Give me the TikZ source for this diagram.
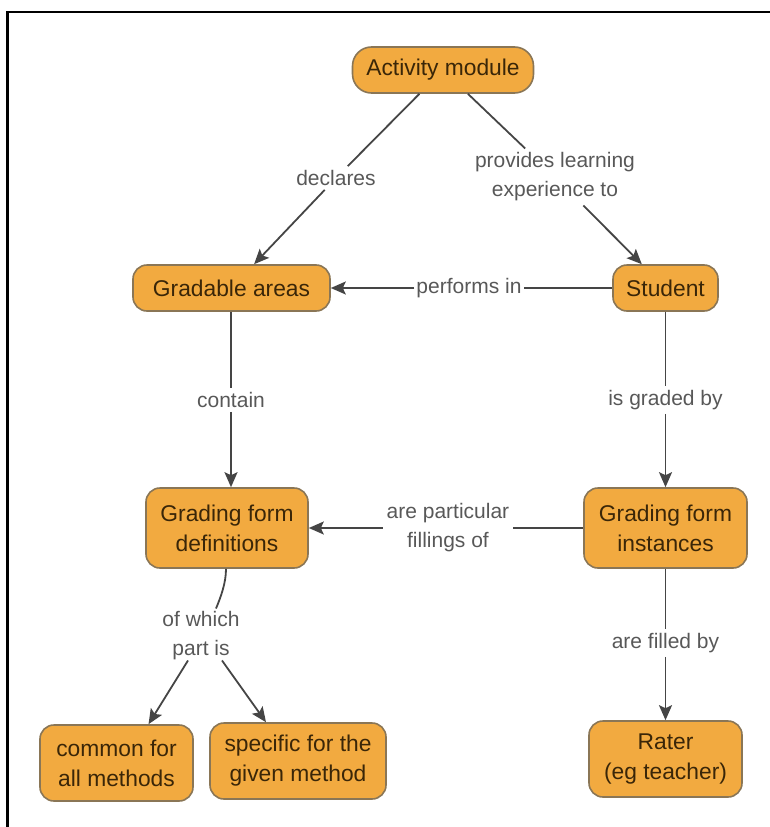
\documentclass[tikz,border=0pt]{standalone}
\usepackage{fontspec}
\setmainfont{Liberation Sans}
\usetikzlibrary{arrows.meta,calc}
\definecolor{boxfill}{HTML}{F2AA40}
\definecolor{boxline}{HTML}{8A7656}
\definecolor{boxtext}{HTML}{3A2608}
\definecolor{edgecol}{HTML}{454545}
\definecolor{lbltext}{HTML}{585858}
\tikzset{
  concept/.style={draw=boxline, line width=1.6pt, fill=boxfill, rounded corners=14pt,
    text=boxtext, align=center, inner sep=0pt,
    font=\fontsize{22.8}{30}\selectfont},
  linklabel/.style={text=lbltext, align=center, inner sep=4pt,
    font=\fontsize{21}{29}\selectfont},
  link/.style={draw=edgecol, line width=1.8pt},
  arrowlink/.style={link, -{Stealth[length=15pt,width=13pt,inset=3pt]}},
}
\begin{document}
\begin{tikzpicture}[x=1pt,y=-1pt]
\useasboundingbox (0,0) rectangle (769,827);
% frame (top and left edges only)
\draw[line width=2.6pt, line cap=rect] (7.5,827) -- (7.5,12) -- (769,12);

% concepts
\node[concept, rounded corners=19pt, minimum width=181pt, minimum height=46pt] (act) at (443,70) {Activity module};
\node[concept, minimum width=197pt, minimum height=46pt] (grad) at (231.5,288) {Gradable areas};
\node[concept, minimum width=105pt, minimum height=46pt] (stud) at (665.5,288) {Student};
\node[concept, minimum width=162pt, minimum height=80pt] (defs) at (227,528) {Grading form\\definitions};
\node[concept, minimum width=163pt, minimum height=80pt] (inst) at (665.5,528) {Grading form\\instances};
\node[concept, minimum width=153pt, minimum height=76pt] (common) at (116.5,763) {common for\\all methods};
\node[concept, minimum width=176pt, minimum height=76pt] (spec) at (298,761) {specific for the\\given method};
\node[concept, minimum width=153pt, minimum height=76pt] (rater) at (665.5,759) {Rater\\(eg teacher)};

% link labels
\node[linklabel] (lDecl) at (336,178) {declares};
\node[linklabel] (lProv) at (555,177) {provides learning\\experience to};
\node[linklabel, inner sep=2pt] (lPerf) at (469,288) {performs in};
\node[linklabel] (lCont) at (231,400) {contain};
\node[linklabel] (lGrad) at (665.5,400) {is graded by};
\node[linklabel] (lFill) at (448,528) {are particular\\fillings of};
\node[linklabel, inner sep=2pt] (lPart) at (201,636) {of which\\part is};
\node[linklabel] (lRate) at (665.5,643) {are filled by};

% connectors
\draw[link] (act) -- (lDecl);
\draw[arrowlink] (lDecl) -- (grad);
\draw[link] (act) -- (lProv);
\draw[arrowlink] (lProv) -- (stud);
\draw[link] (stud) -- (lPerf);
\draw[arrowlink] (lPerf) -- (grad);
\draw[link] (grad.south -| lCont) -- (lCont);
\draw[arrowlink] (lCont) -- (lCont |- defs.north);
\draw[link] (stud) -- (lGrad);
\draw[arrowlink] (lGrad) -- (inst);
\draw[link] (inst) -- (lFill);
\draw[arrowlink] (lFill) -- (defs);
\draw[link] ($(defs.south)+(-1,0)$) .. controls +(0,14) and +(5,-12) .. ($(lPart.north)+(15,-1)$);
\draw[arrowlink] ($(lPart.south)+(-13,-2)$) -- ($(common.north)+(32,0)$);
\draw[arrowlink] ($(lPart.south)+(21,-2)$) -- ($(spec.north)+(-32,0)$);
\draw[link] (inst) -- (lRate);
\draw[arrowlink] (lRate) -- (rater);
\end{tikzpicture}
\end{document}
